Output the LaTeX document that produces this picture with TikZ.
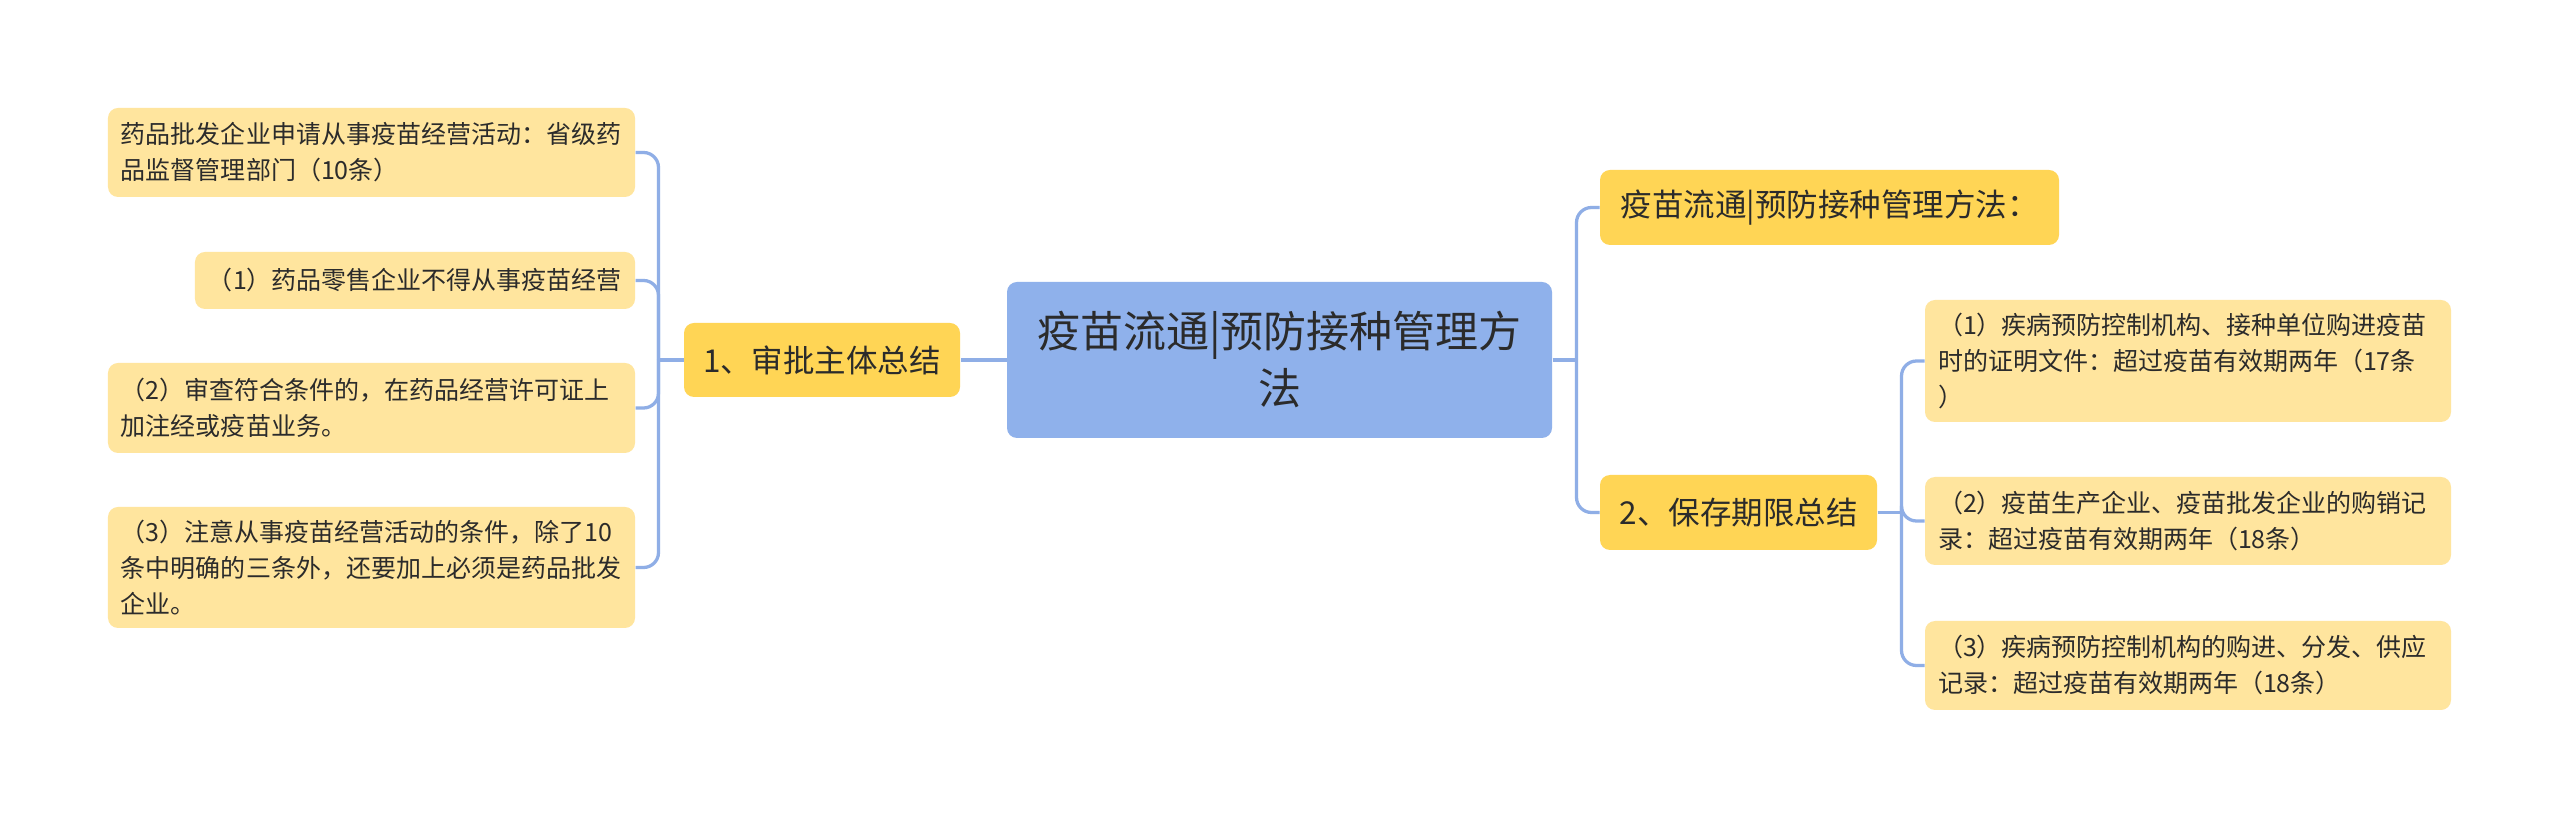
\documentclass[tikz,border=0pt]{standalone}
\usepackage{fontspec}
\setmainfont{Noto Sans CJK SC}
\definecolor{cfill}{HTML}{8FB1EB}
\definecolor{lfill}{HTML}{FFD555}
\definecolor{leaffill}{HTML}{FFE59E}
\definecolor{linec}{HTML}{8FAEE6}
\definecolor{txt}{HTML}{2B2B2B}
\tikzset{
  base/.style={inner ysep=0pt, text=txt, anchor=center, rounded corners=4pt},
  centerbox/.style={base, fill=cfill, align=center, font=\fontsize{17.2}{22.8}\selectfont},
  midbox/.style={base, fill=lfill, align=center, font=\fontsize{12.6}{16}\selectfont},
  leafbox/.style={base, fill=leaffill, align=left, inner xsep=5.2pt, font=\fontsize{10}{14.4}\selectfont},
  conn/.style={draw=linec, line width=1.3pt, rounded corners=6pt},
  stub/.style={draw=linec, line width=1.3pt}
}
\begin{document}
\begin{tikzpicture}[x=0.4pt,y=-0.4pt]
\useasboundingbox[fill=white] (0,0) rectangle (2560,817);
% center
\node[centerbox, minimum width=218pt, minimum height=62.4pt] (c) at (1279.5,360) {疫苗流通|预防接种管理方\\法};
% left branch
\node[midbox, minimum width=110.4pt, minimum height=29.6pt] (l1) at (822,360) {1、审批主体总结};
\node[leafbox, text width=200.4pt, minimum height=35.6pt] (ll1) at (371.5,152.5) {药品批发企业申请从事疫苗经营活动：省级药\\品监督管理部门（10条）};
\node[leafbox, text width=165.6pt, minimum height=22.8pt] (ll2) at (415,280.5) {（1）药品零售企业不得从事疫苗经营};
\node[leafbox, text width=200.4pt, minimum height=36pt] (ll3) at (371.5,408) {（2）审查符合条件的，在药品经营许可证上\\加注经或疫苗业务。};
\node[leafbox, text width=200.4pt, minimum height=48.4pt] (ll4) at (371.5,567.5) {（3）注意从事疫苗经营活动的条件，除了10\\条中明确的三条外，还要加上必须是药品批发\\企业。};
% right branch
\node[midbox, minimum width=183.6pt, minimum height=30pt] (r1) at (1829.5,207.5) {疫苗流通|预防接种管理方法：};
\node[midbox, minimum width=110.8pt, minimum height=30pt] (r2) at (1738.5,512.5) {2、保存期限总结};
\node[leafbox, text width=200pt, minimum height=48.8pt] (rl1) at (2188,361) {（1）疾病预防控制机构、接种单位购进疫苗\\时的证明文件：超过疫苗有效期两年（17条\\）};
\node[leafbox, text width=200pt, minimum height=35.2pt] (rl2) at (2188,521) {（2）疫苗生产企业、疫苗批发企业的购销记\\录：超过疫苗有效期两年（18条）};
\node[leafbox, text width=200pt, minimum height=35.6pt] (rl3) at (2188,665.5) {（3）疾病预防控制机构的购进、分发、供应\\记录：超过疫苗有效期两年（18条）};
% junctions
\coordinate (jl) at ([xshift=-10pt]l1.west);
\coordinate (jc) at ([xshift=9.6pt]c.east);
\coordinate (jr) at ([xshift=9.6pt]r2.east);
% connectors
\draw[stub] (c.west) -- (l1.east);
\draw[stub] (l1.west) -- (jl);
\foreach \n in {ll1,ll2,ll3,ll4} {
  \draw[conn] (jl) |- (\n.east);
}
\draw[stub] (c.east) -- (jc);
\foreach \n in {r1,r2} {
  \draw[conn] (jc) |- (\n.west);
}
\draw[stub] (r2.east) -- (jr);
\foreach \n in {rl1,rl2,rl3} {
  \draw[conn] (jr) |- (\n.west);
}
\end{tikzpicture}
\end{document}
